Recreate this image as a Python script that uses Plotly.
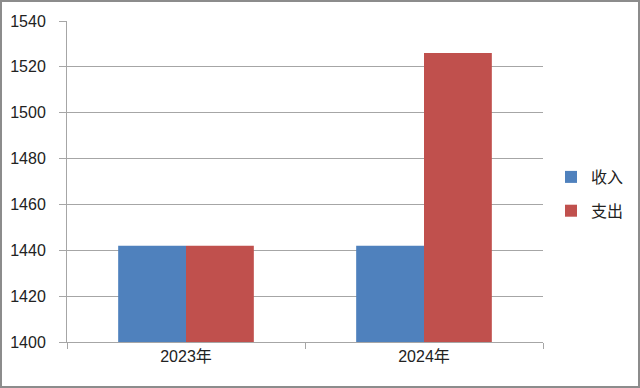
import plotly.graph_objects as go

categories = ["2023年", "2024年"]
income = [1442, 1442]
expense = [1442, 1526]
series_names = ["收入", "支出"]
y_ticks = [1400, 1420, 1440, 1460, 1480, 1500, 1520, 1540]

W, H = 640, 388
L, R, T, B = 67, 97, 21, 46
pw, ph = W - L - R, H - T - B

font_family = "Liberation Sans, Noto Sans CJK SC, sans-serif"

fig = go.Figure()
fig.add_trace(go.Bar(x=categories, y=income, name=series_names[0],
                     legendgroup="a",
                     marker=dict(color="#4f81bd", line=dict(width=0))))
fig.add_trace(go.Bar(x=categories, y=expense, name=series_names[1],
                     legendgroup="b",
                     marker=dict(color="#c0504d", line=dict(width=0))))

fig.update_layout(
    width=W, height=H,
    margin=dict(l=L, r=R, t=T, b=B, pad=0, autoexpand=False),
    paper_bgcolor="white", plot_bgcolor="white",
    barmode="group", bargap=0.43, bargroupgap=0,
    font=dict(family=font_family, size=16, color="#222"),
    showlegend=True,
    legend=dict(x=(551 - L) / pw, y=(342 - 194) / ph, xanchor="left",
                yanchor="middle", traceorder="grouped",
                font=dict(size=16), tracegroupgap=10, itemwidth=30,
                bgcolor="rgba(0,0,0,0)"),
    xaxis=dict(showline=True, linecolor="#a6a6a6", linewidth=1,
               ticks="outside", tickson="boundaries", ticklen=6,
               tickcolor="#a6a6a6", showgrid=False,
               tickfont=dict(size=16)),
    yaxis=dict(range=[1400, 1540], tickvals=y_ticks, showline=True,
               linecolor="#a6a6a6", linewidth=1, ticks="outside", ticklen=7,
               tickcolor="#a6a6a6", showgrid=True, gridcolor="#a6a6a6",
               gridwidth=1, zeroline=False, tickfont=dict(size=16),
               ticklabelstandoff=10),
    shapes=[dict(type="rect", xref="paper", yref="paper",
                 x0=(1 - L) / pw, x1=(W - 1 - L) / pw,
                 y0=-(B - 1) / ph,
                 y1=(H - B - 1) / ph,
                 line=dict(color="#8c8c8c", width=2), layer="above")],
)

fig.write_html("out.html", config={"displayModeBar": False},
               post_script="document.body.style.margin='0';")
